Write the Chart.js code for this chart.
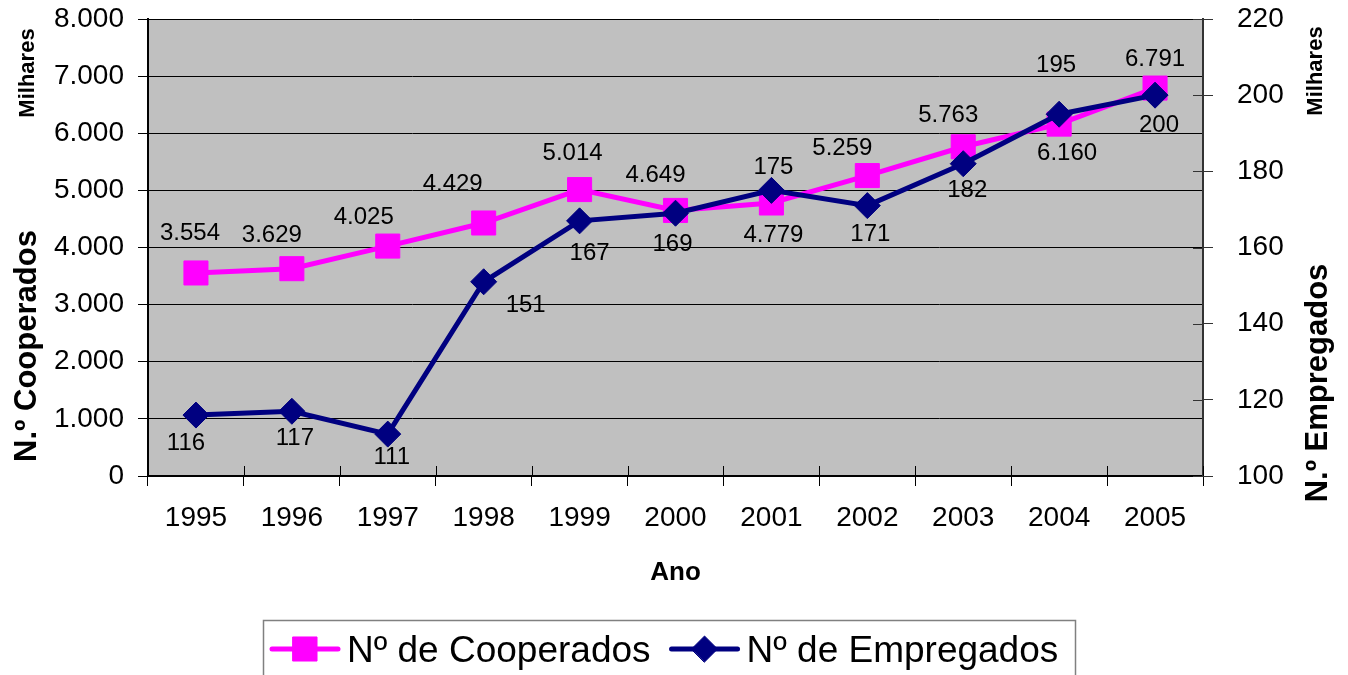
<!DOCTYPE html>
<html><head><meta charset="utf-8">
<script src="https://cdn.jsdelivr.net/npm/chart.js@4/dist/chart.umd.min.js"></script>
<style>html,body{margin:0;padding:0;background:#fff;overflow:hidden}</style>
</head><body><canvas id="c" width="1348" height="675"></canvas>
<script>
// ---- data ----
const years = ['1995','1996','1997','1998','1999','2000','2001','2002','2003','2004','2005'];
const cooperados = [3554, 3629, 4025, 4429, 5014, 4649, 4779, 5259, 5763, 6160, 6791];
const empregados = [116, 117, 111, 151, 167, 169, 175, 171, 182, 195, 200];
const seriesNames = ['Nº de Cooperados', 'Nº de Empregados'];

// ---- label placement (style) ----
const coopLabelOffset = [[-6,-40],[-20,-33],[-24,-29],[-31,-39],[-7,-36],[-20,-35],[2,32],[-25,-27],[-15,-31],[8,29],[0,-29]];
const empLabelOffset  = [[-10,28],[3,27],[4,23],[42,24],[10,33],[-3,31],[2,-23],[3,29],[4,27],[-3,-49],[4,30]];

const FONT = '"Liberation Sans", Arial, sans-serif';
function fmt(v){ return String(Math.round(v)).replace(/\B(?=(\d{3})+(?!\d))/g,'.'); }

const bgPlugin = {
  id:'bg',
  beforeDraw(chart){
    const {ctx, chartArea:a} = chart;
    ctx.save(); ctx.fillStyle='#C0C0C0';
    ctx.fillRect(a.left, a.top, a.right-a.left, a.bottom-a.top);
    ctx.restore();
  }
};

const extraPlugin = {
  id:'extra',
  afterDatasetsDraw(chart){
    const ctx = chart.ctx;
    ctx.save();
    ctx.font = '24px ' + FONT; ctx.fillStyle='#000';
    ctx.textAlign='center'; ctx.textBaseline='middle';
    const offs = [coopLabelOffset, empLabelOffset];
    chart.data.datasets.forEach((ds, di) => {
      const meta = chart.getDatasetMeta(di);
      meta.data.forEach((pt, i) => {
        const o = offs[di][i];
        ctx.fillText(fmt(ds.data[i]), pt.x + o[0], pt.y + o[1]);
      });
    });
    ctx.restore();
  },
  afterDraw(chart){
    const {ctx, chartArea:a, scales} = chart;
    ctx.save();
    // inner parts of crossing ticks on x axis
    ctx.strokeStyle='#000'; ctx.lineWidth=1;
    const xs = scales.x;
    for (let i = 0; i <= years.length; i++) {
      const px = Math.round(xs.getPixelForValue(i - 0.5)) + 0.5;
      ctx.beginPath(); ctx.moveTo(px, a.bottom - 10); ctx.lineTo(px, a.bottom); ctx.stroke();
    }
    // inner parts of right axis ticks
    ctx.strokeStyle='#333';
    scales.y1.ticks.forEach(t => {
      const py = Math.round(scales.y1.getPixelForValue(t.value)) + 0.5;
      ctx.beginPath(); ctx.moveTo(a.right - 10, py); ctx.lineTo(a.right, py); ctx.stroke();
    });
    // axis titles
    ctx.fillStyle='#000'; ctx.textAlign='center'; ctx.textBaseline='middle';
    function vtext(txt, x, y, font){
      ctx.save(); ctx.translate(x, y); ctx.rotate(-Math.PI/2);
      ctx.font = font; ctx.fillText(txt, 0, 0); ctx.restore();
    }
    vtext('N.º Cooperados', 27, 346, 'bold 31px ' + FONT);
    vtext('N.º Empregados', 1318, 383, 'bold 31px ' + FONT);
    vtext('Milhares', 28, 73, 'bold 22px ' + FONT);
    vtext('Milhares', 1316, 71, 'bold 22px ' + FONT);
    ctx.font = 'bold 26px ' + FONT;
    ctx.fillText('Ano', (a.left + a.right)/2, 573);

    // legend
    ctx.strokeStyle='#808080'; ctx.lineWidth=1.5;
    ctx.strokeRect(263.5, 620.5, 812, 70);
    ctx.font = '37px ' + FONT; ctx.textAlign='left'; ctx.textBaseline='alphabetic';
    let x = 272; const ly = 649;
    chart.data.datasets.forEach(ds => {
      ctx.strokeStyle = ds.borderColor; ctx.lineWidth = 5; ctx.lineCap='round';
      ctx.beginPath(); ctx.moveTo(x, ly); ctx.lineTo(x + 66, ly); ctx.stroke();
      ctx.fillStyle = ds.backgroundColor; ctx.strokeStyle = ds.borderColor; ctx.lineWidth = 1;
      Chart.helpers.drawPoint(ctx, {pointStyle: ds.pointStyle, radius: ds.pointRadius, rotation:0, borderWidth:1}, x + 33, ly);
      ctx.fillStyle='#000';
      ctx.fillText(ds.label, x + 75, 662);
      x += 75 + ctx.measureText(ds.label).width + 21;
    });
    ctx.restore();
  }
};

function fitV(w){ return function(s){ s.width = w; s.paddingTop = 0; s.paddingBottom = 0; }; }

new Chart(document.getElementById('c'), {
  type:'line',
  data:{
    labels: years,
    datasets:[
      {label: seriesNames[0], data: cooperados, yAxisID:'y', borderColor:'#FF00FF', backgroundColor:'#FF00FF',
       borderWidth:5, pointStyle:'rect', pointRadius:17, pointBorderWidth:1, tension:0, order:1},
      {label: seriesNames[1], data: empregados, yAxisID:'y1', borderColor:'#000080', backgroundColor:'#000080',
       borderWidth:5, pointStyle:'rectRot', pointRadius:13, pointBorderWidth:1, tension:0, order:0}
    ]
  },
  options:{
    responsive:false, animation:false, events:[],
    layout:{padding:{top:19, left:0, right:0, bottom:0}},
    plugins:{legend:{display:false}, tooltip:{enabled:false}},
    scales:{
      x:{type:'category', offset:true,
         grid:{offset:true, drawOnChartArea:false, color:'#000', tickLength:10, lineWidth:1},
         border:{color:'#000', width:2},
         ticks:{font:{size:28, family:FONT}, color:'#000', padding:15, maxRotation:0, autoSkip:false},
         afterFit(s){ s.height = 199; s.paddingLeft = 0; s.paddingRight = 0; }},
      y:{position:'left', min:0, max:8000,
         ticks:{stepSize:1000, callback:v=>fmt(v), font:{size:28, family:FONT}, color:'#000', padding:14},
         grid:{color:'#000', tickLength:10, lineWidth:1},
         border:{color:'#000', width:2},
         afterFit: fitV(148)},
      y1:{position:'right', min:100, max:220,
         ticks:{stepSize:20, font:{size:28, family:FONT}, color:'#000', padding:24},
         grid:{drawOnChartArea:false, color:'#333', tickLength:10, lineWidth:1},
         border:{color:'#333', width:2},
         afterFit: fitV(145)}
    }
  },
  plugins:[bgPlugin, extraPlugin]
});
</script>
</body></html>
